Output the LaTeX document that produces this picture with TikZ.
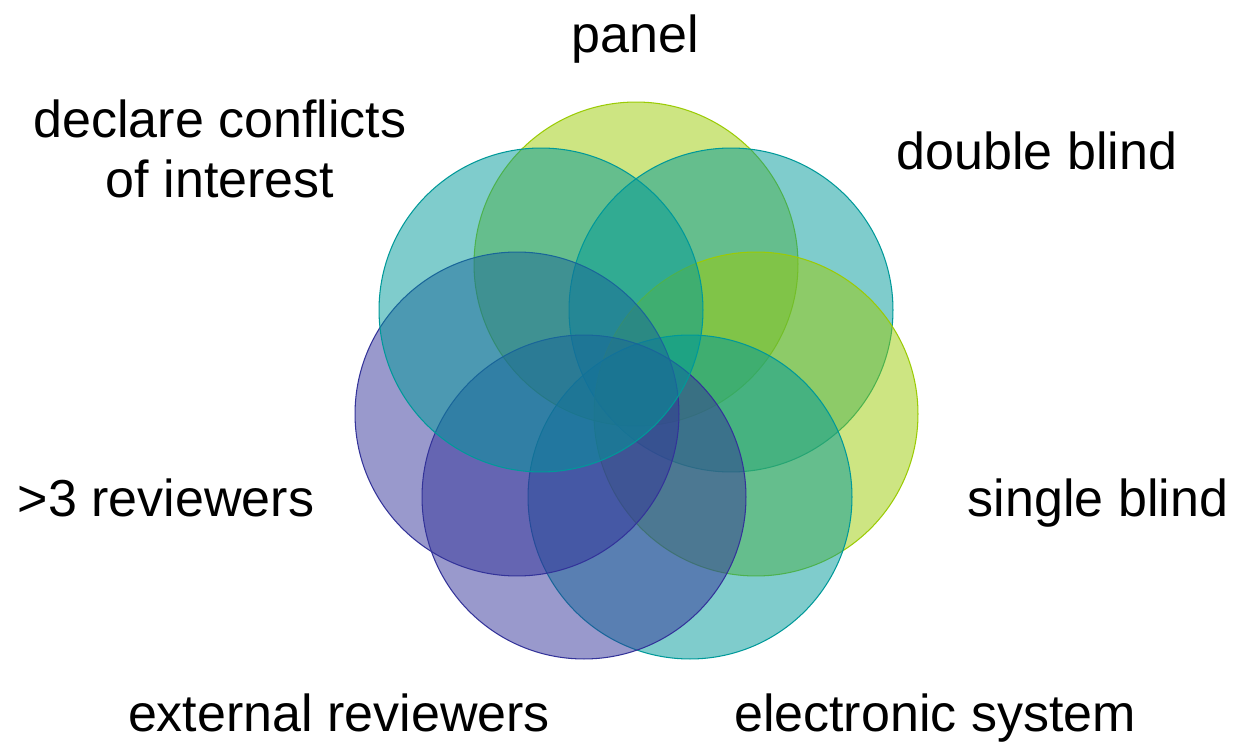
\documentclass[tikz,border=0pt]{standalone}
\usepackage{fontspec}
\setmainfont{Liberation Sans}
\usetikzlibrary{positioning}

\definecolor{vgreen}{HTML}{9BCB05}
\definecolor{vteal}{HTML}{009999}
\definecolor{vblue}{HTML}{333399}

\begin{document}
\begin{tikzpicture}[x=0.02cm,y=-0.02cm,
  set/.style={circle,draw=#1,fill=#1,fill opacity=0.5,draw opacity=1,
    line width=0.6pt,minimum size=6.48cm,inner sep=0pt},
  setlabel/.style={font=\fontsize{29.6}{34.7}\selectfont,anchor=base,
    inner sep=0pt,align=center}]

\useasboundingbox (0,0) rectangle (1237,743);

% define the sets
  \node[set=vgreen] (panel)  at (636,264) {};
  \node[set=vteal]  (dblind) at (731,310) {};
  \node[set=vgreen] (sblind) at (756,414) {};
  \node[set=vteal]  (esys)   at (690,497) {};
  \node[set=vblue]  (extrev) at (584,497) {};
  \node[set=vblue]  (rev3)   at (517,414) {};
  \node[set=vteal]  (coi)    at (541,310) {};

% define the labels
  \node[setlabel] (lpanel)  at (635,53)   {panel};
  \node[setlabel] (ldblind) at (1037,170) {double blind};
  \node[setlabel] (lsblind) at (1098,516) {single blind};
  \node[setlabel] (lesys)   at (935,731)  {electronic system};
  \node[setlabel] (lextrev) at (339,731)  {external reviewers};
  \node[setlabel] (lrev3)   at (166,516)  {>3 reviewers};
  \node[setlabel,anchor=north] (lcoi) at (220,99) {declare conflicts\\of interest};

\end{tikzpicture}
\end{document}
